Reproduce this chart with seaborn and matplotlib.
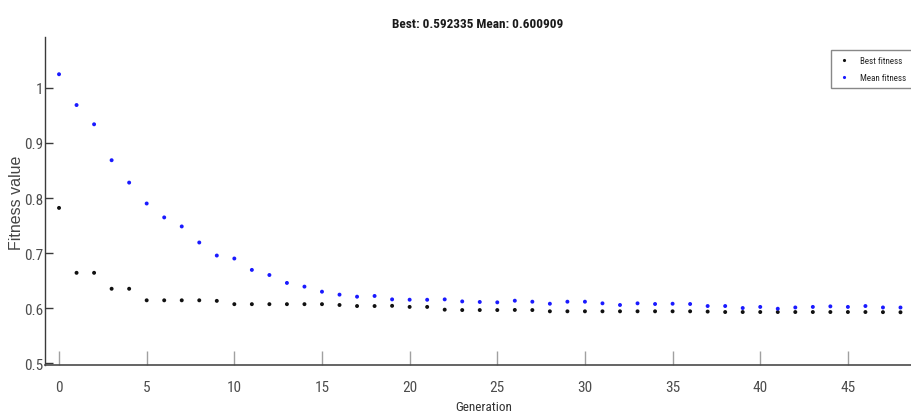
import numpy as np
import pandas as pd
import matplotlib
matplotlib.use("Agg")
import matplotlib.pyplot as plt
import seaborn as sns
from matplotlib import font_manager
from matplotlib.ticker import FixedLocator, FuncFormatter

# ---------------- data ----------------
generation = list(range(49))
best_fitness = [0.782, 0.664, 0.664, 0.635, 0.635, 0.614, 0.614, 0.614, 0.614, 0.613,
                0.607, 0.607, 0.607, 0.607, 0.607, 0.607, 0.6055, 0.6036, 0.6036, 0.604,
                0.602, 0.602, 0.597, 0.5963, 0.5963, 0.5963, 0.5965, 0.5963, 0.594, 0.594,
                0.594, 0.594, 0.594, 0.594, 0.594, 0.594, 0.594, 0.5935, 0.5927, 0.5927,
                0.5927, 0.5927, 0.5927, 0.5927, 0.5927, 0.5927, 0.5927, 0.5925, 0.5923]
mean_fitness = [1.025, 0.969, 0.934, 0.8687, 0.828, 0.790, 0.7647, 0.7483, 0.7191, 0.6954,
                0.690, 0.6693, 0.660, 0.6456, 0.6389, 0.6297, 0.6243, 0.6206, 0.6219, 0.6157,
                0.6151, 0.615, 0.6157, 0.612, 0.611, 0.6103, 0.6133, 0.6115, 0.6078, 0.6115,
                0.6115, 0.6085, 0.6055, 0.6085, 0.6073, 0.6078, 0.6073, 0.6036, 0.6036, 0.600,
                0.602, 0.5987, 0.601, 0.602, 0.603, 0.602, 0.6036, 0.601, 0.6009]
series_names = ["Best fitness", "Mean fitness"]
series_colors = ["#111111", "#1a1aff"]
x_ticks = [0, 5, 10, 15, 20, 25, 30, 35, 40, 45]
y_ticks = [0.5, 0.6, 0.7, 0.8, 0.9, 1.0]
title_text = "Best: 0.592335 Mean: 0.600909"
x_label = "Generation"
y_label = "Fitness value"

df = pd.DataFrame({
    "Generation": generation * 2,
    "Fitness": best_fitness + mean_fitness,
    "Series": [series_names[0]] * len(generation) + [series_names[1]] * len(generation),
})

# ---------------- style ----------------
sns.set_style("white")
names = {f.name for f in font_manager.fontManager.ttflist}
narrow = next((n for n in ["Liberation Sans Narrow", "DejaVu Sans Condensed",
                           "Roboto Condensed", "Liberation Sans"] if n in names), "DejaVu Sans")
plt.rcParams["font.family"] = [narrow, "Liberation Sans", "DejaVu Sans"]

fig = plt.figure(figsize=(9.11, 4.14), dpi=100)
ax = fig.add_axes([45 / 911, 1 - 366 / 414, 1 - 45 / 911, (366 - 38) / 414])

sns.scatterplot(data=df, x="Generation", y="Fitness", hue="Series",
                palette=dict(zip(series_names, series_colors)),
                s=8, linewidth=0, marker="o", ax=ax, legend=True, zorder=3)

ax.set_xlim(-0.8, 48.6)
ax.set_ylim(0.4964, 1.0927)
ax.xaxis.set_major_locator(FixedLocator(x_ticks))
ax.yaxis.set_major_locator(FixedLocator(y_ticks))
ax.yaxis.set_major_formatter(FuncFormatter(lambda v, p: f"{v:g}"))

for s in ["top", "right"]:
    ax.spines[s].set_visible(False)
ax.spines["left"].set_color("#3a3a3a")
ax.spines["bottom"].set_color("#4a4a4a")
ax.spines["left"].set_linewidth(1.0)
ax.spines["bottom"].set_linewidth(1.2)

ax.tick_params(axis="x", bottom=True, direction="in", length=10, width=1.0, color="#a0a0a0",
               pad=11, labelsize=11, labelcolor="#4d4d4d")
ax.tick_params(axis="y", left=True, direction="in", length=6, width=1.0, color="#3a3a3a",
               pad=1, labelsize=11, labelcolor="#4d4d4d")

ax.set_title(title_text, fontsize=9.5, fontweight="bold", color="#1a1a1a", pad=7)
ax.set_xlabel(x_label, fontsize=9.5, color="#333333")
ax.xaxis.set_label_coords(0.506, -0.108)
ax.set_ylabel(y_label, fontsize=11.5, color="#444444", family=["Liberation Sans", "DejaVu Sans"])
ax.yaxis.set_label_coords(-0.024, 0.498)

handles, labels = ax.get_legend_handles_labels()
leg = fig.legend(handles, labels, loc="upper left",
                 bbox_to_anchor=(831 / 911, 1 - 51 / 414), bbox_transform=fig.transFigure,
                 borderaxespad=0, frameon=True, fancybox=False, edgecolor="#888888",
                 framealpha=1, fontsize=6.5, markerscale=0.8, handletextpad=1.0,
                 labelspacing=0.9, borderpad=0.65, handlelength=1.6)
leg.get_frame().set_linewidth(1.0)
if ax.get_legend() is not None:
    ax.get_legend().remove()

fig.savefig("out.png", dpi=100)
